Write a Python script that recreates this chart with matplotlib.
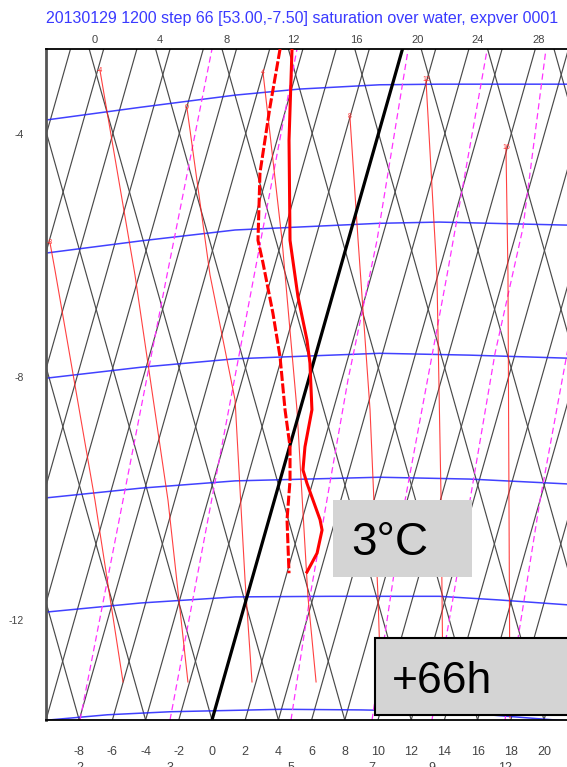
import numpy as np
import matplotlib.pyplot as plt
from matplotlib.patches import Rectangle

plt.rcParams['font.family'] = ['Liberation Sans', 'DejaVu Sans']

title = "20130129 1200 step 66 [53.00,-7.50] saturation over water, expver 0001"

# frame: x = temperature along the bottom (deg C), y = left scale
x_lo, x_hi = -10, 23
y_lo, y_hi = -13.646, -2.601

# black background grid: isotherms every 2 deg, dry adiabats every 4 deg (bottom intercepts)
isotherms = np.arange(-24, 26, 2)
adiabats = np.arange(-8, 40, 4)
iso_slope = 1.039
adi_slope = -1.032

bottom_ticks = np.arange(-8, 22, 2)
top_pos = [-7.05, -3.13, 0.90, 4.88, 8.67, 12.41, 16.02, 19.70]
top_labels = ["0", "4", "8", "12", "16", "20", "24", "28"]
left_ticks = [-4, -8, -12]

# blue isobars
iso_T = [
    [-10, -4.3, 1.4, 5.3, 10.1, 13.7, 21.4, 23.5],
    [-10, -4.3, 1.4, 10.1, 13.7, 21.4, 23.5],
    [-10, -4.3, 1.4, 10.1, 15.5, 21.4, 23.5],
    [-10, -4.3, 1.4, 10.1, 15.5, 21.4, 23.5],
    [-10, -4.3, 1.4, 7.1, 13.7, 17.3, 21.4, 23.5],
    [-10, -6.3, -2.5, 4.2, 9.0, 14.3, 19.9, 21.4],
]
iso_v = [
    [-3.77, -3.56, -3.36, -3.26, -3.19, -3.18, -3.18, -3.18],
    [-5.96, -5.76, -5.58, -5.47, -5.45, -5.50, -5.51],
    [-8.02, -7.84, -7.70, -7.61, -7.64, -7.69, -7.71],
    [-9.99, -9.83, -9.71, -9.65, -9.68, -9.76, -9.80],
    [-11.87, -11.72, -11.62, -11.61, -11.61, -11.67, -11.75, -11.79],
    [-13.65, -13.56, -13.51, -13.47, -13.48, -13.51, -13.63, -13.66],
]

# thin red saturated adiabats and their labels
sat_labels = ["-8", "-4", "0", "4", "8", "12", "16"]
sat_T = [
    [-9.76, -9.46, -7.05, -5.36],
    [-6.75, -4.64, -2.65, -1.45],
    [-1.51, -0.12, 1.39, 1.99, 2.41],
    [3.07, 4.22, 5.12, 5.78, 6.27],
    [8.31, 8.80, 9.52, 10.0, 10.18],
    [12.89, 13.55, 13.80, 13.92],
    [17.71, 17.83, 17.89, 17.95],
]
sat_v = [
    [-5.79, -6.24, -10.03, -13.02],
    [-2.95, -6.32, -10.03, -13.02],
    [-3.57, -6.32, -8.38, -11.34, -13.02],
    [-2.98, -5.75, -8.54, -11.62, -13.02],
    [-3.72, -5.75, -8.54, -11.62, -13.15],
    [-3.11, -6.32, -10.03, -13.32],
    [-4.23, -6.32, -10.03, -13.61],
]

# magenta dashed mixing ratio lines (g/kg), listed from the bottom up
mix_labels = ["2", "3", "5", "7", "9", "12"]
mix_T = [
    [-7.95, -5.24, -2.71, 0.0],
    [-2.53, 5.12],
    [4.76, 5.90, 8.19, 9.94, 11.81],
    [9.64, 11.63, 14.16, 16.57],
    [13.25, 15.54, 17.05, 18.73, 20.12],
    [17.65, 19.76, 21.39, 25.06],
]
mix_v = [
    [-13.646, -9.86, -6.32, -2.601],
    [-13.646, -2.601],
    [-13.646, -11.62, -8.05, -5.75, -2.617],
    [-13.646, -10.03, -6.32, -2.617],
    [-13.646, -10.03, -7.61, -5.55, -2.601],
    [-13.646, -10.03, -7.61, -2.601],
]

# profile: temperature (solid) and dew point (dashed)
temp_T = [4.82, 4.64, 4.70, 5.18, 5.72, 5.90, 6.02, 5.60, 5.48, 5.72, 6.51, 6.63, 6.33, 5.72]
temp_v = [-2.601, -4.10, -5.75, -6.68, -7.39, -7.77, -8.54, -9.15, -9.53, -9.75,
          -10.35, -10.52, -10.90, -11.21]
dew_T = [4.10, 3.49, 2.89, 2.77, 3.07, 3.67, 4.10, 4.40, 4.70, 4.70, 4.52, 4.64]
dew_v = [-2.601, -3.56, -4.64, -5.75, -6.12, -6.95, -7.67, -8.54, -9.15, -9.70,
         -10.35, -11.23]

W, H = 567, 767
fig = plt.figure(figsize=(W / 100, H / 100), dpi=100)
ax = fig.add_axes([46 / W, 47 / H, (593.8 - 46) / W, 671 / H])
ax.set_xlim(x_lo, x_hi)
ax.set_ylim(y_lo, y_hi)

grid_col = '#4a4a4a'
for t0 in isotherms:
    ax.plot([t0, t0 + iso_slope * (y_hi - y_lo)], [y_lo, y_hi], color=grid_col, lw=0.85, zorder=1)
for t0 in adiabats:
    ax.plot([t0, t0 + adi_slope * (y_hi - y_lo)], [y_lo, y_hi], color=grid_col, lw=0.85, zorder=1)

for xs, ys in zip(iso_T, iso_v):
    ax.plot(xs, ys, color='#2020ff', lw=1.1, alpha=0.85, zorder=2)

for xs, ys in zip(mix_T, mix_v):
    ax.plot(xs, ys, color='#ff33ff', lw=0.9, dashes=(5, 3), zorder=2)

for xs, ys, lab in zip(sat_T, sat_v, sat_labels):
    ax.plot(xs, ys, color='#ff2020', lw=0.8, alpha=0.85, zorder=3)
    ax.text(xs[0], ys[0], lab, color='#ff3030', fontsize=5, ha='center', va='center', zorder=3)

# freezing level isotherm
ax.plot([0, iso_slope * (y_hi - y_lo)], [y_lo, y_hi], color='black', lw=2.3, zorder=4)

ax.plot(dew_T, dew_v, color='#ff0000', lw=2.2, dashes=(3.3, 0.8), zorder=5)
ax.plot(temp_T, temp_v, color='#ff0000', lw=2.2, zorder=5)

ax.set_xticks(bottom_ticks)
ax.set_xticklabels([str(t) for t in bottom_ticks])
ax.set_yticks(left_ticks)
ax.set_yticklabels([str(t) for t in left_ticks])
ax.tick_params(axis='x', length=0, pad=19, labelsize=9, labelcolor='#444444')
ax.tick_params(axis='y', length=0, pad=16, labelsize=7.5, labelcolor='#444444')

top = ax.secondary_xaxis('top')
top.set_xticks(top_pos)
top.set_xticklabels(top_labels)
top.tick_params(length=0, pad=3, labelsize=8, labelcolor='#444444')
top.spines['top'].set_visible(False)

# mixing ratio labels under the bottom scale (cut by the figure edge)
for lab, xs in zip(mix_labels, mix_T):
    ax.text(xs[0], -0.071, lab, transform=ax.get_xaxis_transform(), fontsize=9,
            color='#444444', ha='center', va='center', clip_on=False)

ax.spines['top'].set_linewidth(1.3)
ax.spines['bottom'].set_linewidth(1.3)
ax.spines['left'].set_linewidth(2.0)
ax.spines['left'].set_color('#555555')
ax.spines['right'].set_visible(False)

fig.text(302 / W, 1 - 19 / H, title, color='#3a3aff', fontsize=11.5, ha='center', va='center')

# annotation boxes
fig.add_artist(Rectangle((333 / W, 1 - 577 / H), 139 / W, 77 / H, transform=fig.transFigure,
                         facecolor='#d4d4d4', edgecolor='none', zorder=10))
fig.text(351 / W, 1 - 555 / H, "3°C", fontsize=33, ha='left', va='baseline', zorder=11)
fig.add_artist(Rectangle((375 / W, 1 - 715 / H), 220 / W, 77 / H, transform=fig.transFigure,
                         facecolor='#d4d4d4', edgecolor='black', lw=1.5, zorder=10))
fig.text(392 / W, 1 - 693 / H, "+66h", fontsize=32, ha='left', va='baseline', zorder=11)

fig.savefig('out.png', dpi=100)
